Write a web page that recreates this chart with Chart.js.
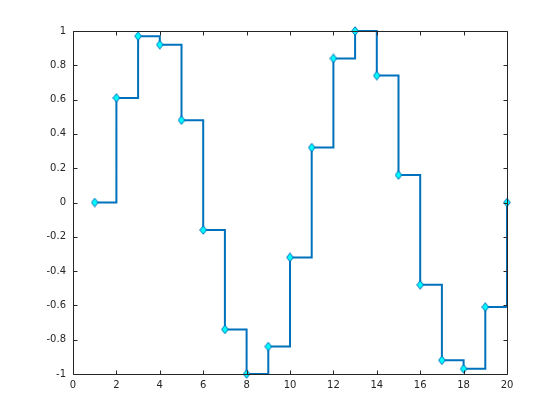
<!DOCTYPE html>
<html>
<head>
<meta charset="utf-8">
<script src="https://cdn.jsdelivr.net/npm/chart.js@4/dist/chart.umd.min.js"></script>
<style>
html,body{margin:0;padding:0;background:#fff;}
#wrap{width:560px;height:420px;}
</style>
</head>
<body>
<div id="wrap"><canvas id="c" width="560" height="420"></canvas></div>
<script>
const xValues = [1,2,3,4,5,6,7,8,9,10,11,12,13,14,15,16,17,18,19,20];
const yValues = [0,0.61,0.97,0.92,0.48,-0.16,-0.74,-1.0,-0.84,-0.32,0.32,0.84,1.0,0.74,0.16,-0.48,-0.92,-0.97,-0.61,0];
const xTickValues = [0,2,4,6,8,10,12,14,16,18,20];
const yTickValues = [-1,-0.8,-0.6,-0.4,-0.2,0,0.2,0.4,0.6,0.8,1];

const axisColor = '#262626';
const fontSpec = {family: '"DejaVu Sans", sans-serif', size: 10};

// tall diamond marker
const marker = document.createElement('canvas');
marker.width = 8; marker.height = 10;
(function () {
  const m = marker.getContext('2d');
  m.beginPath();
  m.moveTo(4, 0.7); m.lineTo(7.3, 5); m.lineTo(4, 9.3); m.lineTo(0.7, 5); m.closePath();
  m.fillStyle = '#00FFFF';
  m.fill();
  m.strokeStyle = '#0072BD';
  m.lineWidth = 1;
  m.stroke();
})();

const boxPlugin = {
  id: 'box',
  afterDraw(chart) {
    const ctx = chart.ctx, a = chart.chartArea;
    const xs = chart.scales.x, ys = chart.scales.y;
    ctx.save();
    ctx.strokeStyle = axisColor;
    ctx.lineWidth = 1;
    const L = Math.round(a.left) + 0.5, R = Math.round(a.right) + 0.5;
    const T = Math.round(a.top) + 0.5, B = Math.round(a.bottom) + 0.5;
    ctx.beginPath();
    ctx.rect(L, T, R - L, B - T);
    const tl = 4;
    xTickValues.forEach(v => {
      const px = Math.round(xs.getPixelForValue(v)) + 0.5;
      ctx.moveTo(px, B); ctx.lineTo(px, B - tl);
      ctx.moveTo(px, T); ctx.lineTo(px, T + tl);
    });
    yTickValues.forEach(v => {
      const py = Math.round(ys.getPixelForValue(v)) + 0.5;
      ctx.moveTo(L, py); ctx.lineTo(L + tl, py);
      ctx.moveTo(R, py); ctx.lineTo(R - tl, py);
    });
    ctx.stroke();
    ctx.restore();
  }
};

const fmt = v => {
  const r = Math.round(v * 10) / 10;
  return (Object.is(r, -0) ? 0 : r).toString();
};

new Chart(document.getElementById('c'), {
  type: 'line',
  data: {
    datasets: [{
      data: xValues.map((x, i) => ({x: x, y: yValues[i]})),
      stepped: 'before',
      borderColor: '#0072BD',
      borderWidth: 2,
      pointStyle: marker,
      pointRadius: 4,
      fill: false,
      clip: 6
    }]
  },
  options: {
    responsive: false,
    animation: false,
    events: [],
    layout: {padding: {left: 0, top: 31, right: 53, bottom: 0}},
    plugins: {legend: {display: false}, tooltip: {enabled: false}},
    scales: {
      x: {
        type: 'linear', min: 0, max: 20,
        grid: {display: false, drawTicks: false},
        border: {display: false},
        afterBuildTicks: s => { s.ticks = xTickValues.map(v => ({value: v})); },
        afterFit: s => { s.height = 46; },
        ticks: {color: axisColor, font: fontSpec, padding: 5, maxRotation: 0, autoSkip: false, callback: v => fmt(v)}
      },
      y: {
        type: 'linear', min: -1, max: 1,
        grid: {display: false, drawTicks: false},
        border: {display: false},
        afterBuildTicks: s => { s.ticks = yTickValues.map(v => ({value: v})); },
        afterFit: s => { s.width = 73; },
        ticks: {color: axisColor, font: fontSpec, padding: 7, autoSkip: false, callback: v => fmt(v)}
      }
    }
  },
  plugins: [boxPlugin]
});
</script>
</body>
</html>
